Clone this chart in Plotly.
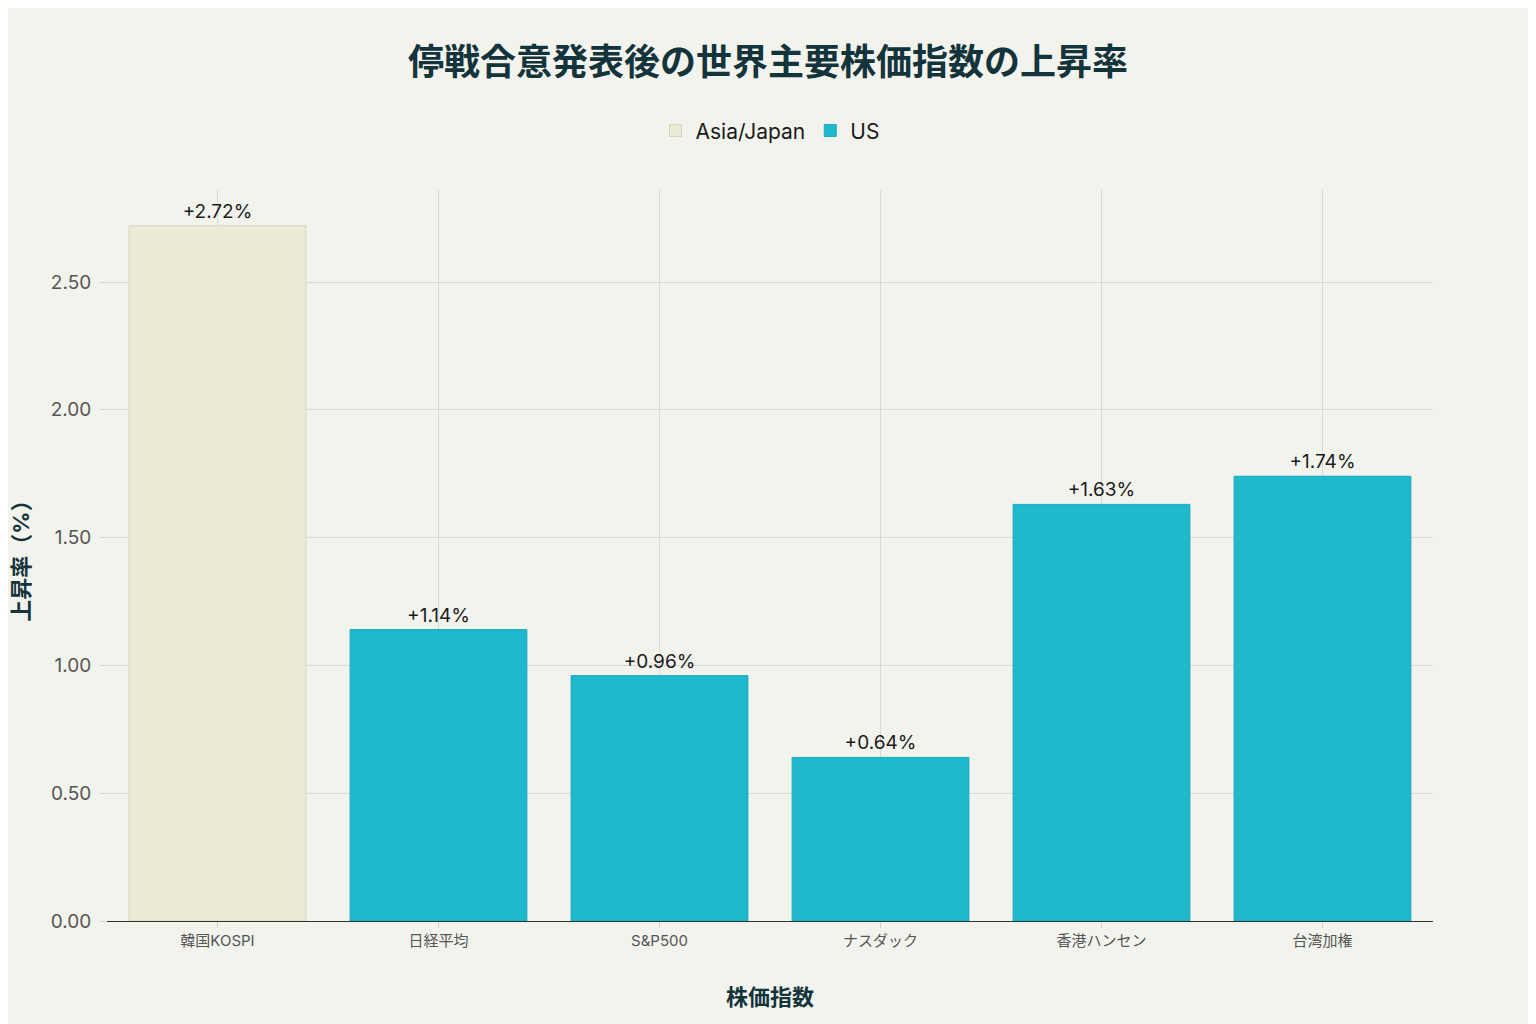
import plotly.graph_objects as go

# index names and rise after the ceasefire announcement (%)
indices = ["韓国KOSPI", "日経平均", "S&P500", "ナスダック", "香港ハンセン", "台湾加権"]
rise_pct = [2.72, 1.14, 0.96, 0.64, 1.63, 1.74]
groups = ["Asia/Japan", "US", "US", "US", "US", "US"]

group_colors = {"Asia/Japan": "#ECEBD5", "US": "#1FB8CD"}
group_lines = {"Asia/Japan": "#D6D4BF", "US": "#1AA9BC"}

font_family = "Inter, 'Noto Sans CJK JP', sans-serif"

fig = go.Figure()

for grp in ["Asia/Japan", "US"]:
    xs = [n for n, g in zip(indices, groups) if g == grp]
    ys = [v for v, g in zip(rise_pct, groups) if g == grp]
    fig.add_trace(
        go.Bar(
            x=xs,
            y=ys,
            name=grp,
            marker=dict(
                color=group_colors[grp],
                line=dict(color=group_lines[grp], width=1),
            ),
            text=[f"+{v:.2f}%" for v in ys],
            textposition="outside",
            textfont=dict(size=19, color="#1B1B1B"),
            cliponaxis=False,
        )
    )

fig.update_layout(
    width=1536,
    height=1024,
    paper_bgcolor="#F3F3EE",
    plot_bgcolor="#F3F3EE",
    font=dict(family=font_family, color="#13343B"),
    title=dict(
        text="<b>停戦合意発表後の世界主要株価指数の上昇率</b>",
        x=0.4948,
        xanchor="center",
        y=0.947,
        yanchor="middle",
        font=dict(size=36, color="#13343B"),
    ),
    legend=dict(
        orientation="h",
        x=0.5,
        xanchor="center",
        y=1.081,
        yanchor="middle",
        font=dict(size=21, color="#1B1B1B"),
    ),
    barmode="overlay",
    bargap=0.2,
    margin=dict(l=99, r=111, t=182, b=111),
)

fig.update_xaxes(
    categoryorder="array",
    categoryarray=indices,
    title=dict(text="<b>株価指数</b>", font=dict(size=22, color="#13343B"), standoff=40),
    tickfont=dict(size=15, color="#555555"),
    showgrid=True,
    gridcolor="#D9D9D4",
    ticks="outside",
    tickcolor="#D0D0CC",
    ticklen=6,
    showline=True,
    linecolor="#333333",
    linewidth=1,
)

fig.update_yaxes(
    range=[0, 2.86],
    tickvals=[0, 0.5, 1.0, 1.5, 2.0, 2.5],
    tickformat=".2f",
    title=dict(text="<b>上昇率（%）</b>", font=dict(size=22, color="#13343B"), standoff=16),
    tickfont=dict(size=19, color="#555555"),
    ticklabelstandoff=5,
    showgrid=True,
    gridcolor="#D9D9D4",
    ticks="outside",
    tickcolor="#D0D0CC",
    ticklen=6,
    zeroline=False,
)

fig.write_html("out.html")
